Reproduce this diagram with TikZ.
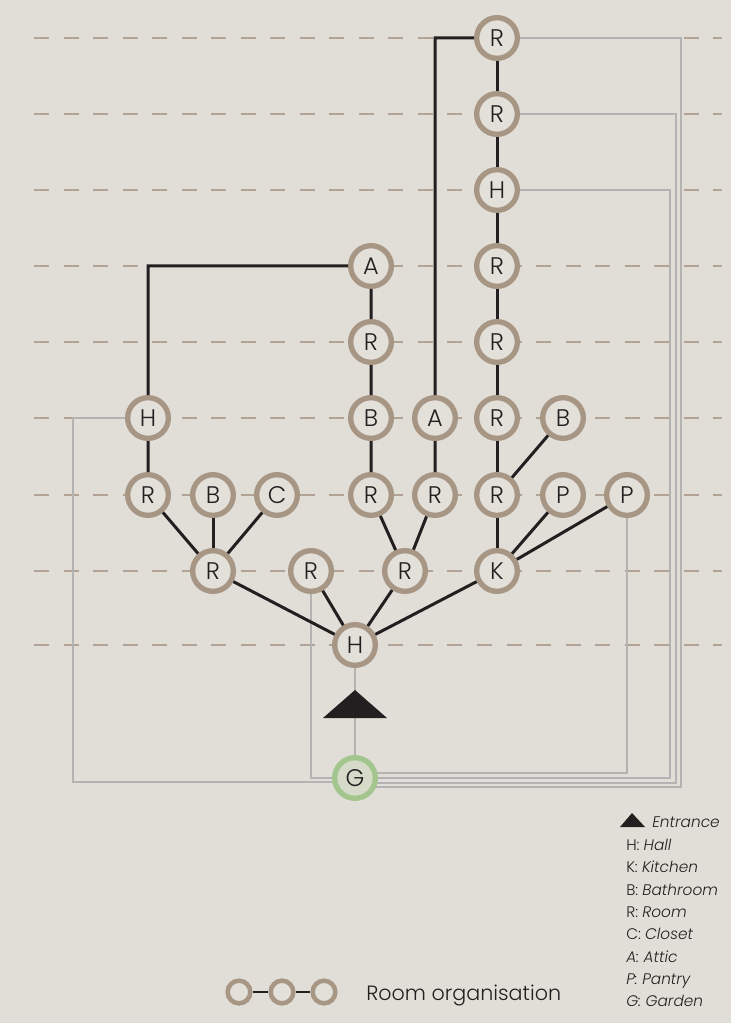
\documentclass[tikz,border=0pt]{standalone}
\usepackage{fontspec}
\setmainfont{Poppins}[UprightFont={* Light},ItalicFont={* Light Italic}]
\usetikzlibrary{backgrounds,positioning,calc}
\definecolor{paperBg}{HTML}{E1DED8}
\definecolor{roomRing}{HTML}{A89685}
\definecolor{roomFill}{HTML}{E3E0DA}
\definecolor{levelTan}{HTML}{B3A394}
\definecolor{gardenRing}{HTML}{A3C68F}
\definecolor{gardenFill}{HTML}{D5DBC8}
\definecolor{accessGrey}{HTML}{B3B3B3}
\definecolor{inkDark}{HTML}{231F20}
\tikzset{
    roomNode/.style={
        circle,
        draw=roomRing,
        fill=roomFill,
        line width=4pt,
        minimum size=30.5pt,
        inner sep=0pt,
        text=inkDark,
        font=\fontsize{18}{18}\selectfont
    },
    gardenNode/.style={roomNode,draw=gardenRing,fill=gardenFill},
    linkLine/.style={line width=2.25pt,draw=inkDark},
    accessLine/.style={line width=1.2pt,draw=accessGrey},
    levelLine/.style={line width=1.6pt,draw=levelTan,dash pattern=on 11.25pt off 10.9pt},
    legendText/.style={anchor=base west,inner sep=0pt,text=inkDark,font=\fontsize{11.5}{11.5}\selectfont},
    legendRing/.style={circle,draw=roomRing,fill=roomFill,line width=3.4pt,minimum size=17pt,inner sep=0pt}
}

\begin{document}
\begin{tikzpicture}[x=0.75pt,y=-0.75pt]
    \useasboundingbox (0,0) rectangle (731,1023);

    % hall and garden
    \node[roomNode] (hall) at (355,645) {H};
    \node[gardenNode] (garden) at (355,778) {G};

    % left wing
    \node[roomNode] (lr) at (213,571) {R};
    \node[roomNode] (lr1) at (148,495) {R};
    \node[roomNode] (lb) at (213,495) {B};
    \node[roomNode] (lc) at (277,495) {C};
    \node[roomNode] (lh) at (148,418) {H};
    \node[roomNode] (mr) at (311,571) {R};

    % central wing
    \node[roomNode] (cr) at (405,571) {R};
    \node[roomNode] (cr1) at (371,495) {R};
    \node[roomNode] (cb) at (371,418) {B};
    \node[roomNode] (cr2) at (371,342) {R};
    \node[roomNode] (ca) at (371,266) {A};
    \node[roomNode] (cr3) at (435,495) {R};
    \node[roomNode] (ca2) at (435,418) {A};

    % kitchen wing
    \node[roomNode] (kit) at (497,571) {K};
    \node[roomNode] (kr1) at (497,495) {R};
    \node[roomNode] (kp1) at (563,495) {P};
    \node[roomNode] (kp2) at (627,495) {P};
    \node[roomNode] (kb) at (563,418) {B};
    \node[roomNode] (kr2) at (497,418) {R};
    \node[roomNode] (kr3) at (497,342) {R};
    \node[roomNode] (kr4) at (497,266) {R};
    \node[roomNode] (kh) at (497,190) {H};
    \node[roomNode] (kr5) at (497,114) {R};
    \node[roomNode] (kr6) at (497,38) {R};

    % room links
    \draw[linkLine] (kr6) -- (kr5) -- (kh) -- (kr4) -- (kr3) -- (kr2) -- (kr1) -- (kit);
    \draw[linkLine] (kr6) -| (ca2) -- (cr3) -- (cr);
    \draw[linkLine] (ca) -- (cr2) -- (cb) -- (cr1) -- (cr);
    \draw[linkLine] (ca) -| (lh) -- (lr1) -- (lr);
    \draw[linkLine] (lb) -- (lr);
    \draw[linkLine] (lc) -- (lr);
    \draw[linkLine] (lr) -- (hall);
    \draw[linkLine] (mr) -- (hall);
    \draw[linkLine] (cr) -- (hall);
    \draw[linkLine] (kit) -- (hall);
    \draw[linkLine] (kb) -- (kr1);
    \draw[linkLine] (kp1) -- (kit);
    \draw[linkLine] (kp2) -- (kit);

    % entrance
    \fill[inkDark] (355,690) -- (387,718) -- (323,718) -- cycle;

    \begin{scope}[on background layer]
        \fill[paperBg] (0,0) rectangle (731,1023);
        \foreach \lvl in {38,114,190,266,342,418,495,571,645}
            \draw[levelLine] (34,\lvl) -- (722,\lvl);
        % access to the garden
        \draw[accessLine] (hall) -- (garden);
        \draw[accessLine] (lh) -| (73,782) -- (garden.center |- 0,782);
        \draw[accessLine] (mr) |- (garden.center);
        \draw[accessLine] (kp2) |- (garden.center |- 0,773);
        \draw[accessLine] (kh) -| (670,778) -- (garden.center);
        \draw[accessLine] (kr5) -| (676,783) -- (garden.center |- 0,783);
        \draw[accessLine] (kr6) -| (681,787) -- (garden.center |- 0,787);
    \end{scope}

    % legend
    \fill[inkDark] (632,813) -- (645,827) -- (620,827) -- cycle;
    \node[legendText] (lgEnt) at (652,827) {\itshape Entrance};
    \node[legendText] (lgH) at (626,850) {H: \textit{Hall}};
    \node[legendText] (lgK) at (626,872) {K: \textit{Kitchen}};
    \node[legendText] (lgB) at (626,895) {B: \textit{Bathroom}};
    \node[legendText] (lgR) at (626,917) {R: \textit{Room}};
    \node[legendText] (lgC) at (626,939) {C: \textit{Closet}};
    \node[legendText] (lgA) at (626,962) {\itshape A: Attic};
    \node[legendText] (lgP) at (626,984) {\itshape P: Pantry};
    \node[legendText] (lgG) at (626,1006) {\itshape G: Garden};

    \node[legendRing] (lgRing1) at (239,992) {};
    \node[legendRing] (lgRing2) at (282,992) {};
    \node[legendRing] (lgRing3) at (324,992) {};
    \draw[line width=1.6pt,draw=inkDark] (lgRing1) -- (lgRing2) -- (lgRing3);
    \node[anchor=west,inner sep=0pt,text=inkDark,font=\fontsize{15.5}{15.5}\selectfont] (lgOrg) at (366,995) {Room organisation};
\end{tikzpicture}
\end{document}
